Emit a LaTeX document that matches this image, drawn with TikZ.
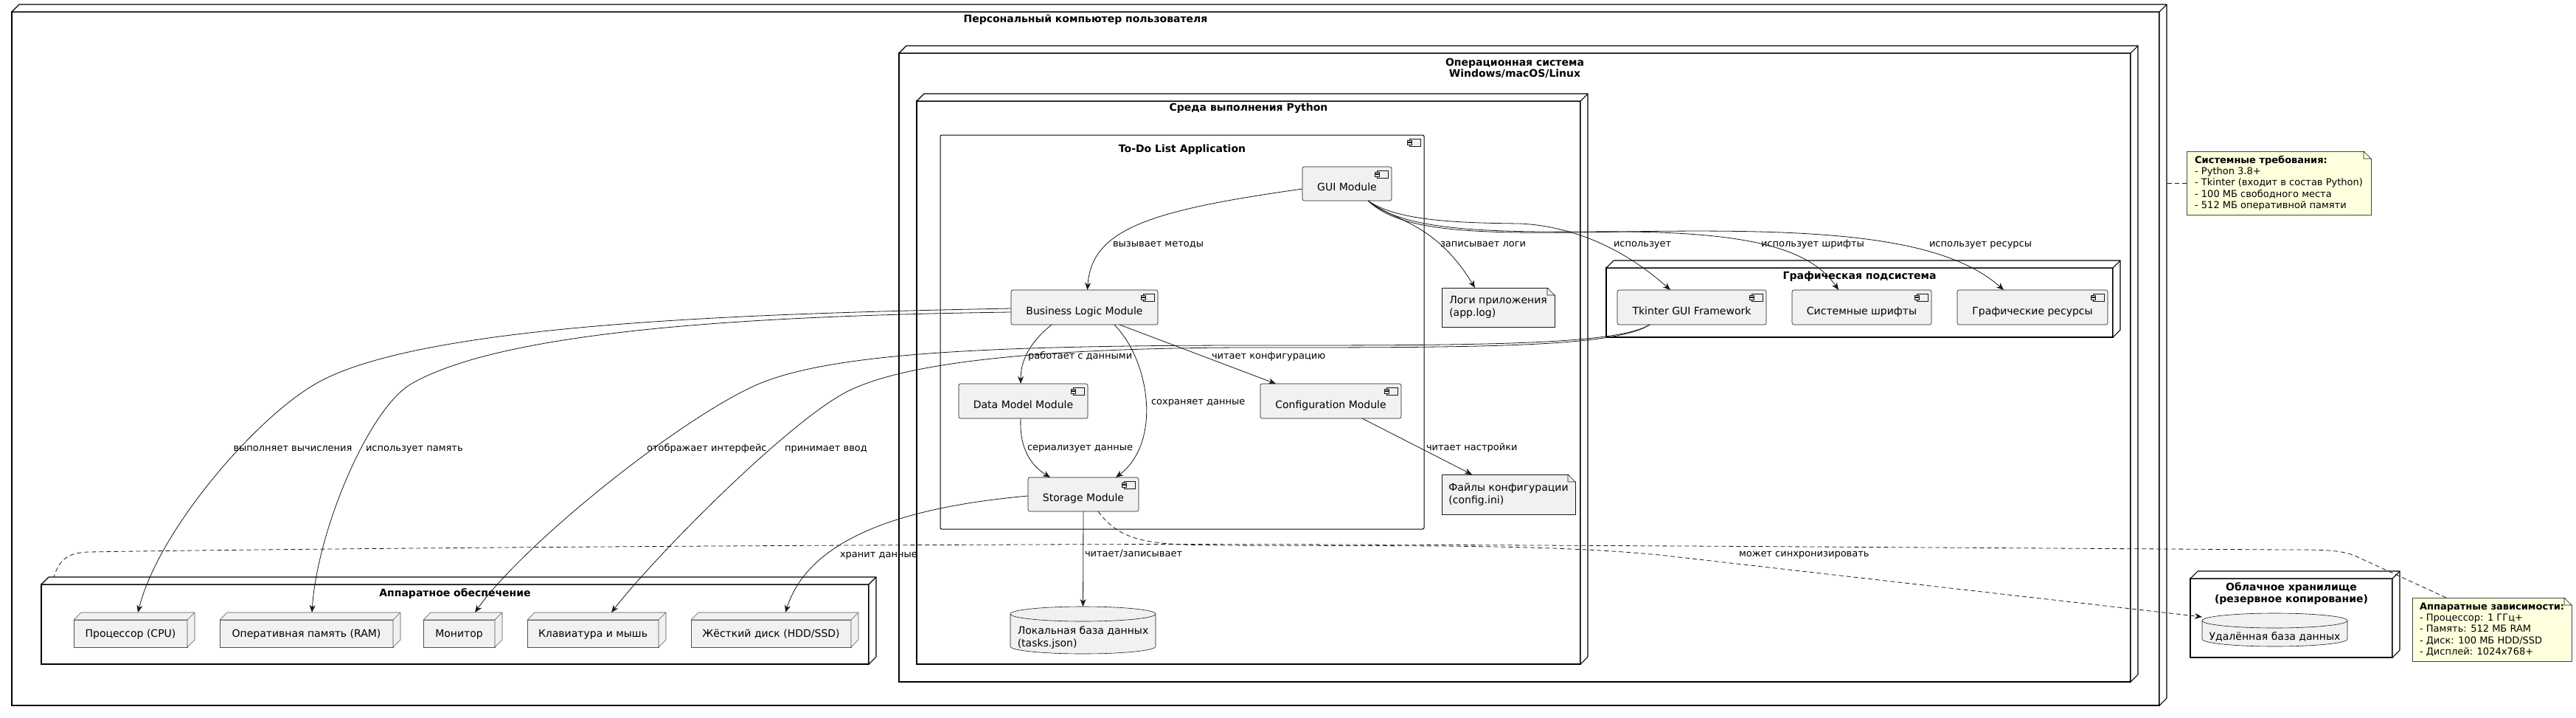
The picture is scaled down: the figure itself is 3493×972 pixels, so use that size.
\documentclass[tikz,border=0pt]{standalone}
\usepackage{fontspec}
\setmainfont{DejaVu Sans}
\usetikzlibrary{arrows.meta,calc}
\definecolor{compfill}{HTML}{F1F1F1}
\definecolor{bord}{HTML}{181818}
\definecolor{notefill}{HTML}{FEFFDD}
\newcommand\myNodeFont{\fontsize{14}{16.5}\selectfont}
\newcommand\myLblFont{\fontsize{13}{15}\selectfont}
\newcommand\myNoteFont{\fontsize{13}{15.3}\selectfont}
% 3D node decoration: name, style
\newcommand\mythreed[2]{%
  \filldraw[#2] (#1.north west) -- ++(10,10) -- ([shift={(10,10)}]#1.north east) -- ([shift={(10,10)}]#1.south east) -- (#1.south east) -- (#1.north east) -- cycle;
  \draw[#2] (#1.north east) -- ++(10,10);}
% component icon at top right
\newcommand\mycompicon[1]{%
  \filldraw[draw=bord, line width=0.5pt, fill=compfill] ([shift={(-20,-5)}]#1.north east) rectangle ([shift={(-5,-15)}]#1.north east);
  \filldraw[draw=bord, line width=0.5pt, fill=compfill] ([shift={(-23,-7)}]#1.north east) rectangle ([shift={(-17,-9.5)}]#1.north east);
  \filldraw[draw=bord, line width=0.5pt, fill=compfill] ([shift={(-23,-10.5)}]#1.north east) rectangle ([shift={(-17,-13)}]#1.north east);}
% folded corner
\newcommand\myfold[1]{%
  \fill[white] ([shift={(-10,1)}]#1.north east) -- ([shift={(1,1)}]#1.north east) -- ([shift={(1,-10)}]#1.north east) -- cycle;
  \draw[draw=bord, line width=0.6pt, line join=round] ([xshift=-10]#1.north east) -- ([yshift=-10]#1.north east)
    ([xshift=-10]#1.north east) -- ([shift={(-10,-10)}]#1.north east) -- ([yshift=-10]#1.north east);}
% cylinder: name, x radius
\newcommand\mycyl[2]{%
  \filldraw[draw=bord, line width=0.6pt, fill=compfill] ([yshift=-10]#1.north west) -- ([yshift=10]#1.south west)
    arc[start angle=180, end angle=360, x radius=#2, y radius=10] -- ([yshift=-10]#1.north east)
    arc[start angle=0, end angle=180, x radius=#2, y radius=10] -- cycle;
  \draw[draw=bord, line width=0.6pt] ([yshift=-10]#1.north west) arc[start angle=180, end angle=360, x radius=#2, y radius=10];}

\begin{document}
\begin{tikzpicture}[x=1pt,y=1pt,
  every node/.style={inner sep=0pt, outer sep=0pt},
  cont/.style={draw=black, line width=1.1pt, rectangle},
  threedface/.style={draw=black, line width=1.1pt, fill=white, line join=round},
  ctitle/.style={font=\bfseries\fontsize{14}{15.5}\selectfont, align=center},
  comp/.style={draw=bord, line width=0.6pt, fill=compfill, rounded corners=2.5pt, font=\myNodeFont, text height=23.2pt, text depth=4pt},
  hwitem/.style={draw=bord!75, line width=0.6pt, fill=compfill, font=\myNodeFont, text height=14.2pt, text depth=4pt},
  hwface/.style={draw=bord!75, line width=0.6pt, fill=compfill, line join=round},
  filebox/.style={draw=bord, line width=0.6pt, fill=compfill, font=\myNodeFont, align=left},
  notebox/.style={draw=bord!80, line width=0.6pt, fill=notefill, font=\myNoteFont, align=left},
  lbl/.style={font=\myLblFont, anchor=west, text height=9.5pt, text depth=0pt},
  arr/.style={draw=bord, line width=0.8pt, -{Stealth[length=10pt,width=8pt,inset=3pt]}},
  dasharr/.style={arr, dash pattern=on 6pt off 4pt},
  notelink/.style={draw=bord, line width=0.8pt, dash pattern=on 6pt off 4pt},
]
\fill[white] (0,0) rectangle (3493,-972);
\useasboundingbox (0,0) rectangle (3493,-972);

% ---------- containers ----------
\node[cont, minimum width=2912, minimum height=940] (pc) at (1472,-486) {};
\mythreed{pc}{threedface}
\node[ctitle] (pct) at (1472,-27) {Персональный компьютер пользователя};

\node[cont, minimum width=1670, minimum height=852] (os) at (2054,-498) {};
\mythreed{os}{threedface}
\node[ctitle] (ost) at (2054,-92.5) {Операционная система\\Windows/macOS/Linux};

\node[cont, minimum width=900, minimum height=763] (py) at (1693,-518.5) {};
\mythreed{py}{threedface}
\node[ctitle] (pyt) at (1693,-147) {Среда выполнения Python};

\node[cont, line width=1.0pt, rounded corners=2pt, minimum width=656, minimum height=534] (todo) at (1603,-450) {};
\mycompicon{todo}
\node[ctitle] (todot) at (1603,-203) {To-Do List Application};

\node[cont, minimum width=687, minimum height=94] (gfx) at (2521.5,-410) {};
\mythreed{gfx}{threedface}
\node[ctitle] (gfxt) at (2521.5,-375) {Графическая подсистема};

\node[cont, minimum width=1122, minimum height=108] (hw) at (617,-846) {};
\mythreed{hw}{threedface}
\node[ctitle] (hwt) at (617,-804) {Аппаратное обеспечение};

\node[cont, minimum width=274, minimum height=107] (cloud) at (3107,-837.5) {};
\mythreed{cloud}{threedface}
\node[ctitle] (cloudt) at (3107,-804.5) {Облачное хранилище\\(резервное копирование)};

% ---------- components ----------
\node[comp, minimum width=121, minimum height=46] (gui) at (1826.5,-249) {GUI Module};
\node[comp, minimum width=199, minimum height=47] (bl) at (1470.5,-416.5) {Business Logic Module};
\node[comp, minimum width=175, minimum height=47] (dm) at (1387.5,-543.5) {Data Model Module};
\node[comp, minimum width=191, minimum height=47] (cfg) at (1804.5,-543.5) {Configuration Module};
\node[comp, minimum width=150, minimum height=46] (st) at (1469,-670) {Storage Module};
\node[comp, minimum width=202, minimum height=47] (tk) at (2294,-416.5) {Tkinter GUI Framework};
\node[comp, minimum width=189, minimum height=47] (fonts) at (2524.5,-416.5) {Системные шрифты};
\node[comp, minimum width=204, minimum height=47] (res) at (2756,-416.5) {Графические ресурсы};
\foreach \n in {gui,bl,dm,cfg,st,tk,fonts,res} {\mycompicon{\n}}

% ---------- files ----------
\node[filebox, minimum width=153, minimum height=53] (logs) at (2031.5,-416.5) {Логи приложения\\(app.log)};
\myfold{logs}
\node[filebox, minimum width=181, minimum height=54] (cfgf) at (2045.5,-670) {Файлы конфигурации\\(config.ini)};
\myfold{cfgf}

% ---------- databases ----------
\node[minimum width=197, minimum height=64] (ldb) at (1468.5,-854) {};
\mycyl{ldb}{98.5}
\node[font=\myNodeFont, align=left] (ldbt) at (1468.5,-864) {Локальная база данных\\(tasks.json)};
\node[minimum width=197, minimum height=45] (rdb) at (3084.5,-853.5) {};
\mycyl{rdb}{98.5}
\node[font=\myNodeFont] (rdbt) at (3084.5,-863) {Удалённая база данных};

% ---------- hardware ----------
\node[hwitem, minimum width=154, minimum height=37] (cpu) at (177,-858.5) {Процессор (CPU)};
\mythreed{cpu}{hwface}
\node[hwitem, minimum width=235, minimum height=37] (ram) at (415.5,-858.5) {Оперативная память (RAM)};
\mythreed{ram}{hwface}
\node[hwitem, minimum width=97, minimum height=37] (mon) at (622.5,-858.5) {Монитор};
\mythreed{mon}{hwface}
\node[hwitem, minimum width=178, minimum height=37] (kb) at (804,-858.5) {Клавиатура и мышь};
\mythreed{kb}{hwface}
\node[hwitem, minimum width=217, minimum height=37] (hdd) at (1045.5,-858.5) {Жёсткий диск (HDD/SSD)};
\mythreed{hdd}{hwface}

% ---------- notes ----------
\node[notebox, minimum width=250, minimum height=86] (sysnote) at (3090,-248) {\textbf{Системные требования:}\\- Python 3.8+\\- Tkinter (входит в состав Python)\\- 100 МБ свободного места\\- 512 МБ оперативной памяти};
\myfold{sysnote}
\node[notebox, minimum width=216, minimum height=86] (hwnote) at (3379,-853) {\textbf{Аппаратные зависимости:}\\- Процессор: 1 ГГц+\\- Память: 512 МБ RAM\\- Диск: 100 МБ HDD/SSD\\- Дисплей: 1024x768+};
\myfold{hwnote}

% ---------- connectors ----------
\draw[arr] ([yshift=-7]gui.west) .. controls (1560,-285) and (1480,-310) .. ([xshift=4]bl.north);
\draw[arr] ([xshift=28.5]gui.south) .. controls (1890,-300) and (1945,-300) .. ([xshift=-31.5]logs.north);
\draw[arr] ([xshift=28.5]gui.south) .. controls (1895,-300) and (1980,-302) .. (2060,-303) .. controls (2130,-306) and (2200,-335) .. ([xshift=-29]tk.north);
\draw[arr] ([xshift=28.5]gui.south) .. controls (1900,-310) and (2000,-315) .. (2150,-314) .. controls (2350,-312) and (2450,-330) .. ([xshift=-31.5]fonts.north);
\draw[arr] ([xshift=28.5]gui.south) .. controls (1900,-315) and (2000,-318) .. (2200,-314) .. controls (2450,-310) and (2630,-316) .. ([xshift=-39]res.north);

\draw[arr] ([xshift=-44.5]bl.south) .. controls (1395,-465) and (1384,-490) .. ([xshift=-3.5]dm.north);
\draw[arr] ([xshift=40.5]bl.south) .. controls (1560,-490) and (1575,-600) .. ([xshift=44]st.north);
\draw[arr] ([xshift=47.5]bl.south) -- ([xshift=-74.5]cfg.north);
\draw[arr] ([xshift=-3.5]dm.south) .. controls (1382,-610) and (1400,-632) .. ([xshift=-45]st.north);
\draw[arr] ([xshift=42.5]cfg.south) -- ([xshift=-49.5]cfgf.north);
\draw[arr] (st.south) -- (ldb.north);
\draw[dasharr] ([xshift=20]st.south) .. controls (1520,-735) and (1560,-738) .. (1650,-739) .. controls (1950,-740) and (2100,-738) .. (2250,-752) -- ([yshift=17.5]rdb.west);

\draw[arr] ([yshift=-1.5]bl.west) .. controls (1000,-425) and (550,-440) .. (420,-525) .. controls (340,-575) and (215,-720) .. ([shift={(10,10)}]cpu.north);
\draw[arr] ([yshift=-6.5]bl.west) .. controls (1000,-428) and (680,-450) .. (558,-520) .. controls (500,-553) and (430,-720) .. ([shift={(7.5,10)}]ram.north);
\draw[arr] ([xshift=-57]tk.south) .. controls (2190,-468) and (2000,-468) .. (1700,-468) .. controls (1350,-468) and (1140,-478) .. (1037,-517) .. controls (937,-555) and (712,-734) .. ([shift={(21.5,10)}]mon.north);
\draw[arr] ([xshift=-57]tk.south) .. controls (2190,-471) and (2000,-471) .. (1700,-471) .. controls (1420,-471) and (1230,-490) .. (1150,-530) .. controls (1070,-570) and (889,-753) .. ([shift={(25,10)}]kb.north);
\draw[arr] ([yshift=-2]st.west) .. controls (1250,-685) and (1100,-720) .. ([shift={(19.5,10)}]hdd.north);

\draw[notelink] (sysnote.west) -- ++(-27,0);
\draw[notelink] ([xshift=46]hwnote.north west) -- (3195,-754) .. controls (3175,-745) and (3150,-745) .. (3100,-745) .. controls (2600,-742) and (1800,-736) .. (1400,-738) .. controls (800,-740) and (300,-745) .. (120,-748) .. controls (90,-749) and (80,-760) .. ([shift={(17,10)}]hw.north west);

% ---------- connector labels ----------
\node[lbl] (l1) at (1509,-330) {вызывает методы};
\node[lbl] (l2) at (1953,-330) {записывает логи};
\node[lbl] (l3) at (2188,-330) {использует};
\node[lbl] (l4) at (2388,-330) {использует шрифты};
\node[lbl] (l5) at (2616,-330) {использует ресурсы};
\node[lbl] (l6) at (1394,-482) {работает с данными};
\node[lbl] (l7) at (1643,-482) {читает конфигурацию};
\node[lbl] (l8) at (1561,-544) {сохраняет данные};
\node[lbl] (l9) at (1393,-606) {сериализует данные};
\node[lbl] (l10) at (1934,-606) {читает настройки};
\node[lbl] (l11) at (316.5,-607) {выполняет вычисления};
\node[lbl] (l12) at (496,-607) {использует память};
\node[lbl] (l13) at (877,-607) {отображает интерфейс};
\node[lbl] (l14) at (1064,-607) {принимает ввод};
\node[lbl] (l15) at (1139,-751) {хранит данные};
\node[lbl] (l16) at (1471,-750) {читает/записывает};
\node[lbl] (l17) at (2358,-750) {может синхронизировать};
\end{tikzpicture}
\end{document}
